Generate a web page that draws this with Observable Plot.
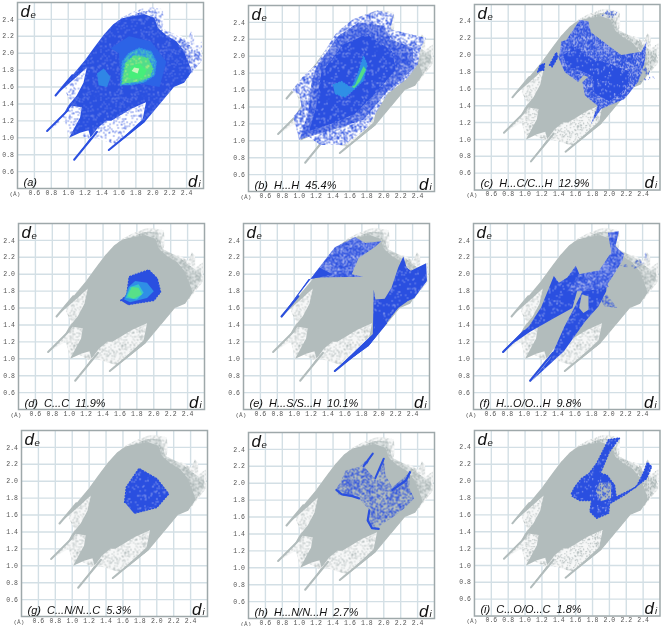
<!DOCTYPE html>
<html><head><meta charset="utf-8">
<script src="https://cdn.jsdelivr.net/npm/d3@7"></script>
<script src="https://cdn.jsdelivr.net/npm/@observablehq/plot@0.6"></script>
<style>
html,body{margin:0;padding:0;background:#fff;width:661px;height:626px;overflow:hidden}
.p{position:absolute;filter:blur(0.3px)}
svg{overflow:visible}
</style></head><body>
<svg width="0" height="0" style="position:absolute"><defs id="defs"></defs></svg>
<script>
const tickValues=[0.6,0.8,1.0,1.2,1.4,1.6,1.8,2.0,2.2,2.4];
const panelLabels=["(a)","(b)  H...H  45.4%","(c)  H...C/C...H  12.9%","(d)  C...C  11.9%","(e)  H...S/S...H  10.1%","(f)  H...O/O...H  9.8%","(g)  C...N/N...C  5.3%","(h)  H...N/N...H  2.7%","(i)  C...O/O...C  1.8%"];
const frameLeft=[17,247.5,473.5,17.5,243,473,21,248,473.5];
const frameTop=[2,4.5,4,223,222.5,223,430,431.5,430];

const outerShape=[[.85,1.5],[1.0,1.68],[1.2,1.92],[1.42,2.22],[1.53,2.34],[1.63,2.42],[1.74,2.48],[1.9,2.54],[1.96,2.55],[2.12,2.52],[2.13,2.36],[2.1,2.26],[2.31,2.22],[2.41,2.16],[2.45,2.26],[2.49,2.22],[2.49,2.08],[2.58,2.14],[2.58,1.91],[2.47,1.77],[2.37,1.65],[2.25,1.6],[1.9,1.18],[1.48,.855],[1.54,.93],[1.38,.98],[1.3,1.0],[1.07,.74],[1.25,.98],[1.11,1.05],[1.01,1.0],[.96,1.2],[.75,1.08],[.95,1.27],[1.03,1.43],[.96,1.56],[1.01,1.7],[.85,1.5]];
const denseShape=[[.85,1.5],[1.0,1.68],[1.2,1.92],[1.3,2.06],[1.42,2.22],[1.53,2.34],[1.63,2.41],[1.75,2.44],[1.9,2.46],[2.02,2.42],[2.06,2.3],[2.15,2.22],[2.28,2.14],[2.36,2.04],[2.42,1.9],[2.46,1.78],[2.37,1.65],[2.25,1.6],[2.1,1.42],[1.9,1.18],[1.7,1.02],[1.48,.855],[1.52,.875],[1.72,1.07],[1.88,1.22],[1.92,1.42],[1.74,1.34],[1.51,1.2],[1.45,1.2],[1.35,1.12],[1.07,.74],[1.27,.98],[1.24,1.09],[1.14,1.06],[1.01,1.0],[1.14,1.24],[1.16,1.36],[1.04,1.38],[.95,1.27],[.75,1.08],[.95,1.29],[1.0,1.38],[1.1,1.5],[1.18,1.65],[1.22,1.83],[1.12,1.74],[.85,1.5]];
const midShape=[[1.75,2.44],[1.88,2.5],[2.05,2.5],[2.1,2.3],[2.3,2.2],[2.4,2.12],[2.5,2.05],[2.56,2.08],[2.56,1.93],[2.46,1.78],[2.36,1.9],[2.2,2],[2,2.2]];
const spikeLeft=[[.75,1.08],[1.0,1.33]];
const spikeMid=[[1.07,.74],[1.34,1.07]];
const spikeRight=[[1.48,.855],[1.9,1.2]];
const spikeTop=[[.85,1.5],[1.05,1.74]];

const aGlowBlue=[[1.42,1.82],[1.5,1.72],[1.46,1.6],[1.36,1.62],[1.34,1.76]];
const aGlowBlue2=[[1.5,2.06],[1.6,2],[1.62,1.68],[2.08,1.6],[2.16,1.9],[1.98,2.14],[1.72,2.2]];
const aCyan=[[1.62,1.62],[1.64,1.9],[1.72,2],[1.84,2.06],[1.98,2.02],[2.04,1.9],[2.02,1.74],[1.9,1.66],[1.72,1.62]];
const aGreen=[[1.64,1.64],[1.68,1.88],[1.78,1.97],[1.94,1.94],[2,1.82],[1.96,1.72],[1.8,1.66]];
const aBright=[[1.71,1.7],[1.74,1.84],[1.84,1.88],[1.93,1.8],[1.88,1.7]];
const aPale=[[1.75,1.79],[1.78,1.83],[1.84,1.82],[1.82,1.76]];

const bSparse=[[.91,1.59],[1.05,1.77],[1.2,1.9],[1.44,2.28],[1.64,2.44],[1.92,2.54],[2.12,2.5],[2.08,2.32],[2.4,2.24],[2.5,2.22],[2.44,2.1],[2.4,1.9],[2.28,1.74],[2.04,1.55],[1.8,1.15],[1.53,.95],[1.25,.95],[1.05,1.09],[1,1.01],[.93,1.29],[1.03,1.39],[1,1.55]];
const bDense=[[1.2,1.87],[1.46,2.24],[1.7,2.4],[2,2.36],[2.08,2.2],[2.34,2.1],[2.36,1.86],[2.04,1.58],[1.76,1.25],[1.4,1.13],[1.05,1.03],[1,1.01],[1.11,1.35],[1.14,1.66]];
const bCore=[[1.26,1.8],[1.52,2.14],[1.8,2.26],[2.1,2.06],[2.14,1.84],[1.9,1.56],[1.66,1.32],[1.38,1.2],[1.12,1.12],[1.2,1.4]];
const bCyan=[[1.4,1.66],[1.5,1.7],[1.62,1.62],[1.7,1.8],[1.76,2],[1.8,1.9],[1.76,1.72],[1.66,1.62],[1.54,1.52],[1.42,1.56]];
const bGreen=[[1.62,1.64],[1.66,1.66],[1.72,1.8],[1.76,1.88],[1.79,1.84],[1.72,1.7],[1.65,1.62]];

const cMain=[[1.43,2.16],[1.49,2.18],[1.65,2.42],[1.75,2.4],[1.78,2.27],[1.98,2.12],[2.14,2],[2.38,2.04],[2.44,2.16],[2.42,1.92],[2.34,1.68],[2.18,1.48],[1.9,1.36],[1.78,1.18],[1.86,1.4],[1.71,1.52],[1.68,1.68],[1.75,1.74],[1.69,1.76],[1.63,1.68],[1.47,1.8],[1.4,1.96]];
const cCore=[[1.45,2.0],[1.6,2.1],[1.8,1.95],[2,1.9],[2.25,1.8],[2.2,1.6],[2,1.45],[1.82,1.55],[1.8,1.75],[1.65,1.82],[1.5,1.86]];
const cSpot=[[1.15,1.8],[1.18,1.88],[1.23,1.9],[1.22,1.82]];
const cStreak=[[1.29,1.88],[1.37,2.03],[1.39,1.98],[1.32,1.86]];
const cTop=[[1.9,2.46],[1.98,2.53],[2.1,2.51],[2.05,2.44]];
const cRight=[[2.4,1.92],[2.54,1.72],[2.34,1.68]];

const dOuter=[[1.61,1.69],[1.68,1.75],[1.71,1.97],[1.82,2.01],[1.94,2.05],[2.04,1.95],[2.08,1.79],[2,1.69],[1.69,1.64]];
const dMid=[[1.65,1.7],[1.7,1.85],[1.78,1.92],[1.92,1.9],[2,1.8],[1.92,1.72],[1.72,1.67]];
const dCyan=[[1.67,1.72],[1.72,1.85],[1.82,1.88],[1.88,1.78],[1.8,1.7]];
const dGreen=[[1.69,1.74],[1.74,1.85],[1.82,1.84],[1.86,1.76],[1.76,1.71]];

const eUpper=[[.85,1.5],[1.48,2.32],[1.72,2.44],[1.84,2.37],[2.03,2.39],[1.95,2.32],[1.76,2.19],[1.68,2],[1.82,1.97],[1.29,1.96],[1.17,1.94]];
const eTip=[[.85,1.5],[1.3,2.08],[1.45,2.0],[1.29,1.96],[1.17,1.94]];
const eLower=[[1.48,.86],[1.93,1.29],[1.94,1.82],[1.96,1.7],[2.07,1.71],[2.15,1.84],[2.23,2.08],[2.29,2.21],[2.33,2.08],[2.38,2.04],[2.56,2.13],[2.57,1.92],[2.42,1.72],[2.34,1.68],[2.23,1.6],[1.88,1.15]];
const eTip2=[[1.48,.86],[1.93,1.29],[2,1.55],[2.1,1.42],[1.88,1.15]];

const fFan=[[.74,1.09],[1.06,1.39],[1.2,1.61],[1.35,1.98],[1.41,1.9],[1.51,1.96],[1.61,2.1],[1.67,1.96],[1.57,1.6],[1.35,1.48],[1.07,1.32]];
const fRight=[[1.09,.74],[1.31,1.01],[1.47,1.37],[1.59,1.6],[1.67,1.76],[1.75,1.96],[1.99,2.06],[1.97,1.8],[1.88,1.62],[1.72,1.44],[1.47,1.09]];
const fUpper=[[1.87,2.02],[2.03,2.26],[1.99,2.49],[2.12,2.51],[2.08,2.33],[2.18,2.24],[2.16,2.16],[2.03,1.95],[1.95,1.83],[1.87,1.87]];
const fMiddle=[[1.5,1.8],[1.65,2],[1.9,2.05],[2,1.85],[1.72,1.8]];
const fFoot=[[1.98,1.76],[2.1,1.6],[1.95,1.62],[1.9,1.7]];
const fHole=[[1.65,1.6],[1.68,1.76],[1.76,1.74],[1.76,1.58],[1.7,1.54]];
const fTail=[[2.12,2.1],[2.3,2.14],[2.44,2.26],[2.46,2.16],[2.3,2.06]];

const gBlob=[[1.62,1.75],[1.64,1.93],[1.79,2.15],[2,2.03],[2.14,1.85],[2,1.69],[1.73,1.62]];

const hBlob=[[1.43,1.92],[1.5,2.04],[1.55,2.15],[1.72,2.2],[1.87,2.35],[1.78,2.18],[1.9,2.05],[2,2.29],[2.02,2.1],[2.1,1.95],[2.31,2.13],[2.3,1.95],[2.36,1.82],[2.24,1.7],[2.14,1.62],[2.02,1.54],[1.9,1.45],[1.81,1.54],[1.83,1.68],[1.71,1.82],[1.47,1.86]];
const hArc=[[1.83,1.68],[1.81,1.56],[1.86,1.47],[1.94,1.46]];
const hLeft=[[1.44,1.92],[1.5,1.87],[1.62,1.85],[1.71,1.82]];
const hFinger=[[1.76,2.2],[1.87,2.35]];
const hFinger2=[[1.9,2.06],[2,2.29]];
const hFinger3=[[2.1,1.92],[2.26,2.03],[2.31,2.13]];

const iBlue=[[1.55,1.85],[1.59,1.93],[1.67,2.03],[1.76,2.09],[1.85,2.21],[1.99,2.49],[2.12,2.51],[2,2.35],[1.89,2.09],[1.97,2.07],[2.06,1.95],[2.08,1.81],[2.32,1.93],[2.41,2.11],[2.45,2.22],[2.5,2.17],[2.44,2.03],[2.2,1.85],[2,1.73],[1.99,1.62],[1.85,1.56],[1.77,1.64],[1.79,1.77],[1.65,1.77],[1.56,1.82]];
const iHole=[[1.88,1.98],[2.02,1.98],[2.02,1.8],[1.9,1.76],[1.84,1.88]];

/* stipple textures used as fills: deterministic hash, not chart data */
const defs=d3.select("#defs");
const fract=v=>v-Math.floor(v);
function tile(id,bg,color,count,dot){
  const size=48;
  const p=defs.append("pattern").attr("id",id).attr("width",size).attr("height",size).attr("patternUnits","userSpaceOnUse");
  if(bg) p.append("rect").attr("width",size).attr("height",size).attr("fill",bg);
  d3.range(1,count+1).forEach(k=>{
    p.append("rect").attr("x",fract(Math.sin(k*12.9898)*43758.5453)*size).attr("y",fract(Math.sin(k*78.233)*24634.6345)*size)
     .attr("width",dot).attr("height",dot).attr("fill",color);
  });
}
const BLUE="#2a4fe0",GRAY="#b2bcbc";
tile("sg","#f6f7f7","#aeb8b8",520,1);
tile("mg","#dde2e2","#a9b4b4",900,1.2);
tile("sb","#ffffff",BLUE,300,1.1);
tile("sbt",null,BLUE,300,1.1);
tile("mbt",null,BLUE,800,1.2);
tile("mb","#ffffff",BLUE,800,1.2);
tile("db","#aab6ee",BLUE,1700,1.2);
tile("cb",BLUE,"#b7c2f2",150,1);
tile("cy","#2f8fe6","#52d6b0",700,1.2);
tile("gr","#52dc8a","#c8f27a",220,1.2);
tile("am","#2a50e0","#7d92ec",240,1);

const spikes=c=>[spikeLeft,spikeMid,spikeRight,spikeTop].map(l=>({l,c}));
const gray=[{s:outerShape,f:"url(#sg)"},{s:midShape,f:"url(#mg)"},{s:denseShape,f:GRAY},...spikes(GRAY)];
const fz="#2a4fe0";
const panels=[
 [{s:outerShape,f:"url(#sb)"},{s:midShape,f:"url(#mb)"},{s:denseShape,f:"url(#am)"},...spikes(BLUE),{s:aGlowBlue2,f:"#2c63e6"},{s:aGlowBlue,f:"#2f86e6"},{s:aCyan,f:"url(#cy)",e:"#2f8fe6"},{s:aGreen,f:"url(#gr)",e:"#52dc8a"},{s:aBright,f:"#46ee7a"},{s:aPale,f:"#c9f5c0"}],
 [...gray,{s:bSparse,f:"url(#mb)"},{s:bDense,f:"url(#db)"},{s:bCore,f:"url(#cb)"},{s:bCyan,f:"#2f8fe6",e:"#2f8fe6"},{s:bGreen,f:"#52dc8a"}],
 [...gray,{s:cMain,f:"url(#db)"},{s:cCore,f:"url(#cb)"},{s:cSpot,f:BLUE,e:fz},{s:cStreak,f:BLUE,e:fz},{s:cTop,f:"url(#mbt)"},{s:cRight,f:"url(#sbt)"}],
 [...gray,{s:dOuter,f:BLUE,e:fz},{s:dMid,f:"#2f8fe6"},{s:dCyan,f:"#38c8c8"},{s:dGreen,f:"#58e088"}],
 [...gray,{s:eUpper,f:"url(#db)"},{s:eTip,f:BLUE},{s:eLower,f:"url(#cb)"},{s:eTip2,f:BLUE},{l:spikeRight,c:BLUE},{l:spikeTop,c:BLUE}],
 [...gray,{s:fFan,f:"url(#cb)"},{s:fRight,f:"url(#cb)"},{s:fMiddle,f:"url(#db)"},{s:fUpper,f:"url(#db)"},{s:fFoot,f:"url(#mbt)"},{s:fHole,f:GRAY},{s:fTail,f:"url(#sbt)"},{l:spikeLeft,c:BLUE},{l:spikeMid,c:BLUE}],
 [...gray,{s:gBlob,f:"url(#cb)",e:fz}],
 [...gray,{s:hBlob,f:"url(#mbt)"},{l:hArc,c:BLUE},{l:hLeft,c:BLUE},{l:hFinger,c:BLUE},{l:hFinger2,c:BLUE},{l:hFinger3,c:BLUE}],
 [...gray,{s:iBlue,f:"url(#cb)",e:fz},{s:iHole,f:GRAY},{s:iHole,f:"url(#mbt)"}]
];

const ML=17,MR=2,MT=2,MB=9,FW=186,FH=186;
const FONT="Liberation Sans",MONO="Liberation Mono";
panels.forEach((layers,i)=>{
  const marks=[
    Plot.gridX(tickValues,{stroke:"#d3dfe5",strokeOpacity:1,strokeWidth:1.4}),
    Plot.gridY(tickValues,{stroke:"#d3dfe5",strokeOpacity:1,strokeWidth:1.4}),
    ...layers.map(l=>l.s
      ? Plot.line(l.s,{fill:l.f,stroke:l.e||"none",strokeWidth:l.e?1.5:0,strokeDasharray:"1,2"})
      : Plot.line(l.l,{stroke:l.c,strokeWidth:l.l.length>2&&l.c===BLUE?2.2:2})),
    Plot.frame({stroke:"#9ea8aa",strokeWidth:1.5}),
    Plot.axisX(tickValues,{anchor:"bottom",tickSize:0,tickPadding:1.5,label:null,tickFormat:d3.format(".1f"),fontFamily:MONO,fontSize:6.5,fill:"#555"}),
    Plot.axisY(tickValues,{anchor:"left",tickSize:0,tickPadding:3.5,label:null,tickFormat:d3.format(".1f"),fontFamily:MONO,fontSize:6.5,fill:"#555"}),
    Plot.text(["d"],{frameAnchor:"top-left",dx:3,dy:2,fontSize:17,fontStyle:"italic",fontFamily:FONT,fill:"#111",lineAnchor:"top"}),
    Plot.text(["e"],{frameAnchor:"top-left",dx:13,dy:9,fontSize:9.5,fontStyle:"italic",fontFamily:FONT,fill:"#111",lineAnchor:"top"}),
    Plot.text(["d"],{frameAnchor:"bottom-right",dx:-6,dy:-2,fontSize:17,fontStyle:"italic",fontFamily:FONT,fill:"#111",lineAnchor:"bottom"}),
    Plot.text(["i"],{frameAnchor:"bottom-right",dx:-3,dy:-2,fontSize:9.5,fontStyle:"italic",fontFamily:FONT,fill:"#111",lineAnchor:"bottom"}),
    Plot.text([panelLabels[i]],{frameAnchor:"bottom-left",dx:6,dy:-3,fontSize:11,fontStyle:"italic",fontFamily:FONT,fill:"#111",lineAnchor:"bottom",textAnchor:"start"}),
    Plot.text(["(Å)"],{frameAnchor:"bottom-left",dx:-8,dy:3,fontSize:6,fontFamily:MONO,fill:"#555",lineAnchor:"top",textAnchor:"start"})
  ];
  const chart=Plot.plot({width:ML+FW+MR,height:MT+FH+MB,marginLeft:ML,marginRight:MR,marginTop:MT,marginBottom:MB,
    x:{domain:[.4,2.6]},y:{domain:[.4,2.6]},style:{background:"transparent",overflow:"visible"},marks});
  const w=document.createElement("div");
  w.className="p";w.style.left=(frameLeft[i]-ML)+"px";w.style.top=(frameTop[i]-MT)+"px";
  w.appendChild(chart);document.body.appendChild(w);
});
</script></body></html>
